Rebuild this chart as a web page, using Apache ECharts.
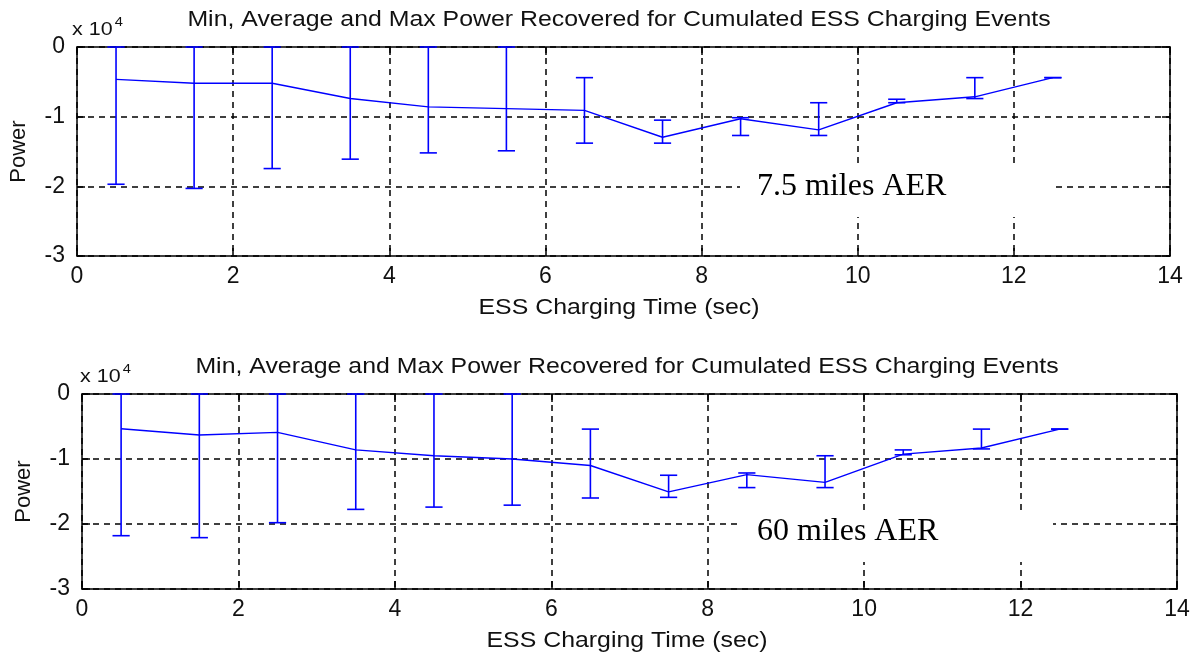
<!DOCTYPE html>
<html>
<head>
<meta charset="utf-8">
<script src="https://cdn.jsdelivr.net/npm/echarts@6/dist/echarts.min.js"></script>
<style>
html,body{margin:0;padding:0;background:#fff;}
#chart{width:1195px;height:661px;}
</style>
</head>
<body>
<div id="chart"></div>
<script>
// ---- data ----
const chargingTime = [0.5, 1.5, 2.5, 3.5, 4.5, 5.5, 6.5, 7.5, 8.5, 9.5, 10.5, 11.5, 12.5];

// 7.5 miles AER
const avgPower75 = [-4640, -5200, -5200, -7400, -8600, -8850, -9100, -12950, -10300, -11900, -8000, -7150, -4400];
const maxPower75 = [0, 0, 0, 0, 0, 0, -4400, -10500, -10150, -8000, -7500, -4400, -4400];
const minPower75 = [-19700, -20300, -17450, -16100, -15200, -14900, -13800, -13800, -12700, -12700, -8000, -7400, -4400];

// 60 miles AER
const avgPower60 = [-5350, -6300, -5900, -8600, -9500, -10000, -11000, -15050, -12400, -13600, -9250, -8300, -5400];
const maxPower60 = [0, 0, 0, 0, 0, 0, -5400, -12500, -12150, -9500, -8600, -5400, -5400];
const minPower60 = [-21800, -22100, -19800, -17750, -17400, -17100, -16000, -15900, -14400, -14400, -9350, -8450, -5400];

const xTicks = [0, 2, 4, 6, 8, 10, 12, 14];
const yTicks = [0, -1, -2, -3]; // x 10^4

const titleText = 'Min, Average and Max Power Recovered for Cumulated ESS Charging Events';
const xName = 'ESS Charging Time (sec)';
const yName = 'Power';
const labels = ['7.5 miles AER', '60 miles AER'];

// ---- chart ----
const chart = echarts.init(document.getElementById('chart'), null, {renderer: 'canvas'});
const BLUE = '#0000ff';
const TXT = '#111';
const FONT = '"Liberation Sans", Arial, sans-serif';
const SX = 1.13; // horizontal stretch of the original rendering

const grids = [
  {left: 76, right: 25, top: 47, height: 209},
  {left: 82, right: 18, top: 394, height: 195}
];

function mkX(gi, pos) {
  const main = pos === 'bottom';
  return {
    type: 'value', gridIndex: gi, position: pos,
    min: xTicks[0], max: xTicks[xTicks.length - 1], interval: 2,
    axisLine: {show: true, onZero: false, lineStyle: {color: '#000', width: 1.5}},
    axisTick: {show: true, inside: true, length: 8, lineStyle: {color: '#000', width: 1.5}},
    axisLabel: {show: main, color: TXT, fontFamily: FONT, fontSize: 23, margin: 9},
    splitLine: {show: main, lineStyle: {color: '#000', type: [6, 5], width: 1.5}}
  };
}
function mkY(gi, pos) {
  const main = pos === 'left';
  return {
    type: 'value', gridIndex: gi, position: pos,
    min: -30000, max: 0, interval: 10000,
    axisLine: {show: true, onZero: false, lineStyle: {color: '#000', width: 1.5}},
    axisTick: {show: true, inside: true, length: 8, lineStyle: {color: '#000', width: 1.5}},
    axisLabel: {show: main, color: TXT, fontFamily: FONT, fontSize: 23, margin: 12,
      formatter: v => String(Math.round(v / 10000))},
    splitLine: {show: main, lineStyle: {color: '#000', type: [6, 5], width: 1.5}},
    name: main ? yName : '', nameLocation: 'middle', nameGap: 47,
    nameTextStyle: {color: TXT, fontFamily: FONT, fontSize: 22}
  };
}

function errRender(params, api) {
  const x = api.value(0), lo = api.value(1), hi = api.value(2);
  const pLo = api.coord([x, lo]);
  const pHi = api.coord([x, hi]);
  const hw = api.size([0.22, 0])[0] / 2;
  const st = {stroke: BLUE, lineWidth: 1.6};
  return {
    type: 'group',
    children: [
      {type: 'line', shape: {x1: pLo[0], y1: pLo[1], x2: pHi[0], y2: pHi[1]}, style: st},
      {type: 'line', shape: {x1: pLo[0] - hw, y1: pLo[1], x2: pLo[0] + hw, y2: pLo[1]}, style: st},
      {type: 'line', shape: {x1: pHi[0] - hw, y1: pHi[1], x2: pHi[0] + hw, y2: pHi[1]}, style: st}
    ]
  };
}

function seriesFor(gi, avg, mn, mx) {
  return [
    {
      type: 'line', xAxisIndex: gi * 2, yAxisIndex: gi * 2,
      data: chargingTime.map((t, i) => [t, avg[i]]),
      symbol: 'none', lineStyle: {color: BLUE, width: 1.4}, z: 3, silent: true
    },
    {
      type: 'custom', xAxisIndex: gi * 2, yAxisIndex: gi * 2,
      data: chargingTime.map((t, i) => [t, mn[i], mx[i]]),
      renderItem: errRender, z: 4, silent: true
    }
  ];
}

function annot(rectTop, textMid, label) {
  return {
    type: 'group', z: 50,
    children: [
      {type: 'rect', shape: {x: 740, y: rectTop, width: 313, height: 52}, style: {fill: '#fff'}, z: 50},
      {type: 'text', x: 757, y: textMid, z: 51,
        style: {text: label, fill: '#000', fontSize: 32,
          fontFamily: '"Liberation Serif", "Times New Roman", serif',
          align: 'left', verticalAlign: 'middle'}}
    ]
  };
}

function sansText(str, cx, cy, size) {
  return {
    type: 'text', x: cx, y: cy, scaleX: SX, z: 50,
    style: {text: str, fill: TXT, fontSize: size, fontFamily: FONT, align: 'center', verticalAlign: 'middle'}
  };
}

function expLabel(x, y) {
  return {
    type: 'text', x: x, y: y, scaleX: SX, z: 50,
    style: {
      text: '{b|x 10}{s|4}',
      align: 'left', verticalAlign: 'middle',
      rich: {
        b: {fontSize: 19, fontFamily: FONT, fill: TXT, color: TXT, padding: [8, 0, 0, 0]},
        s: {fontSize: 13, fontFamily: FONT, fill: TXT, color: TXT, padding: [0, 0, 8, 2]}
      }
    }
  };
}

const option = {
  backgroundColor: '#fff',
  animation: false,
  grid: grids,
  xAxis: [mkX(0, 'bottom'), mkX(0, 'top'), mkX(1, 'bottom'), mkX(1, 'top')],
  yAxis: [mkY(0, 'left'), mkY(0, 'right'), mkY(1, 'left'), mkY(1, 'right')],
  series: [].concat(
    seriesFor(0, avgPower75, minPower75, maxPower75),
    seriesFor(1, avgPower60, minPower60, maxPower60)
  ),
  graphic: [
    sansText(titleText, 619, 20, 22),
    sansText(titleText, 627, 367, 22),
    sansText(xName, 619, 308, 22),
    sansText(xName, 627, 641, 22),
    annot(165, 187, labels[0]),
    annot(510, 532, labels[1]),
    expLabel(72, 26),
    expLabel(80, 373)
  ]
};
chart.setOption(option);
</script>
</body>
</html>
